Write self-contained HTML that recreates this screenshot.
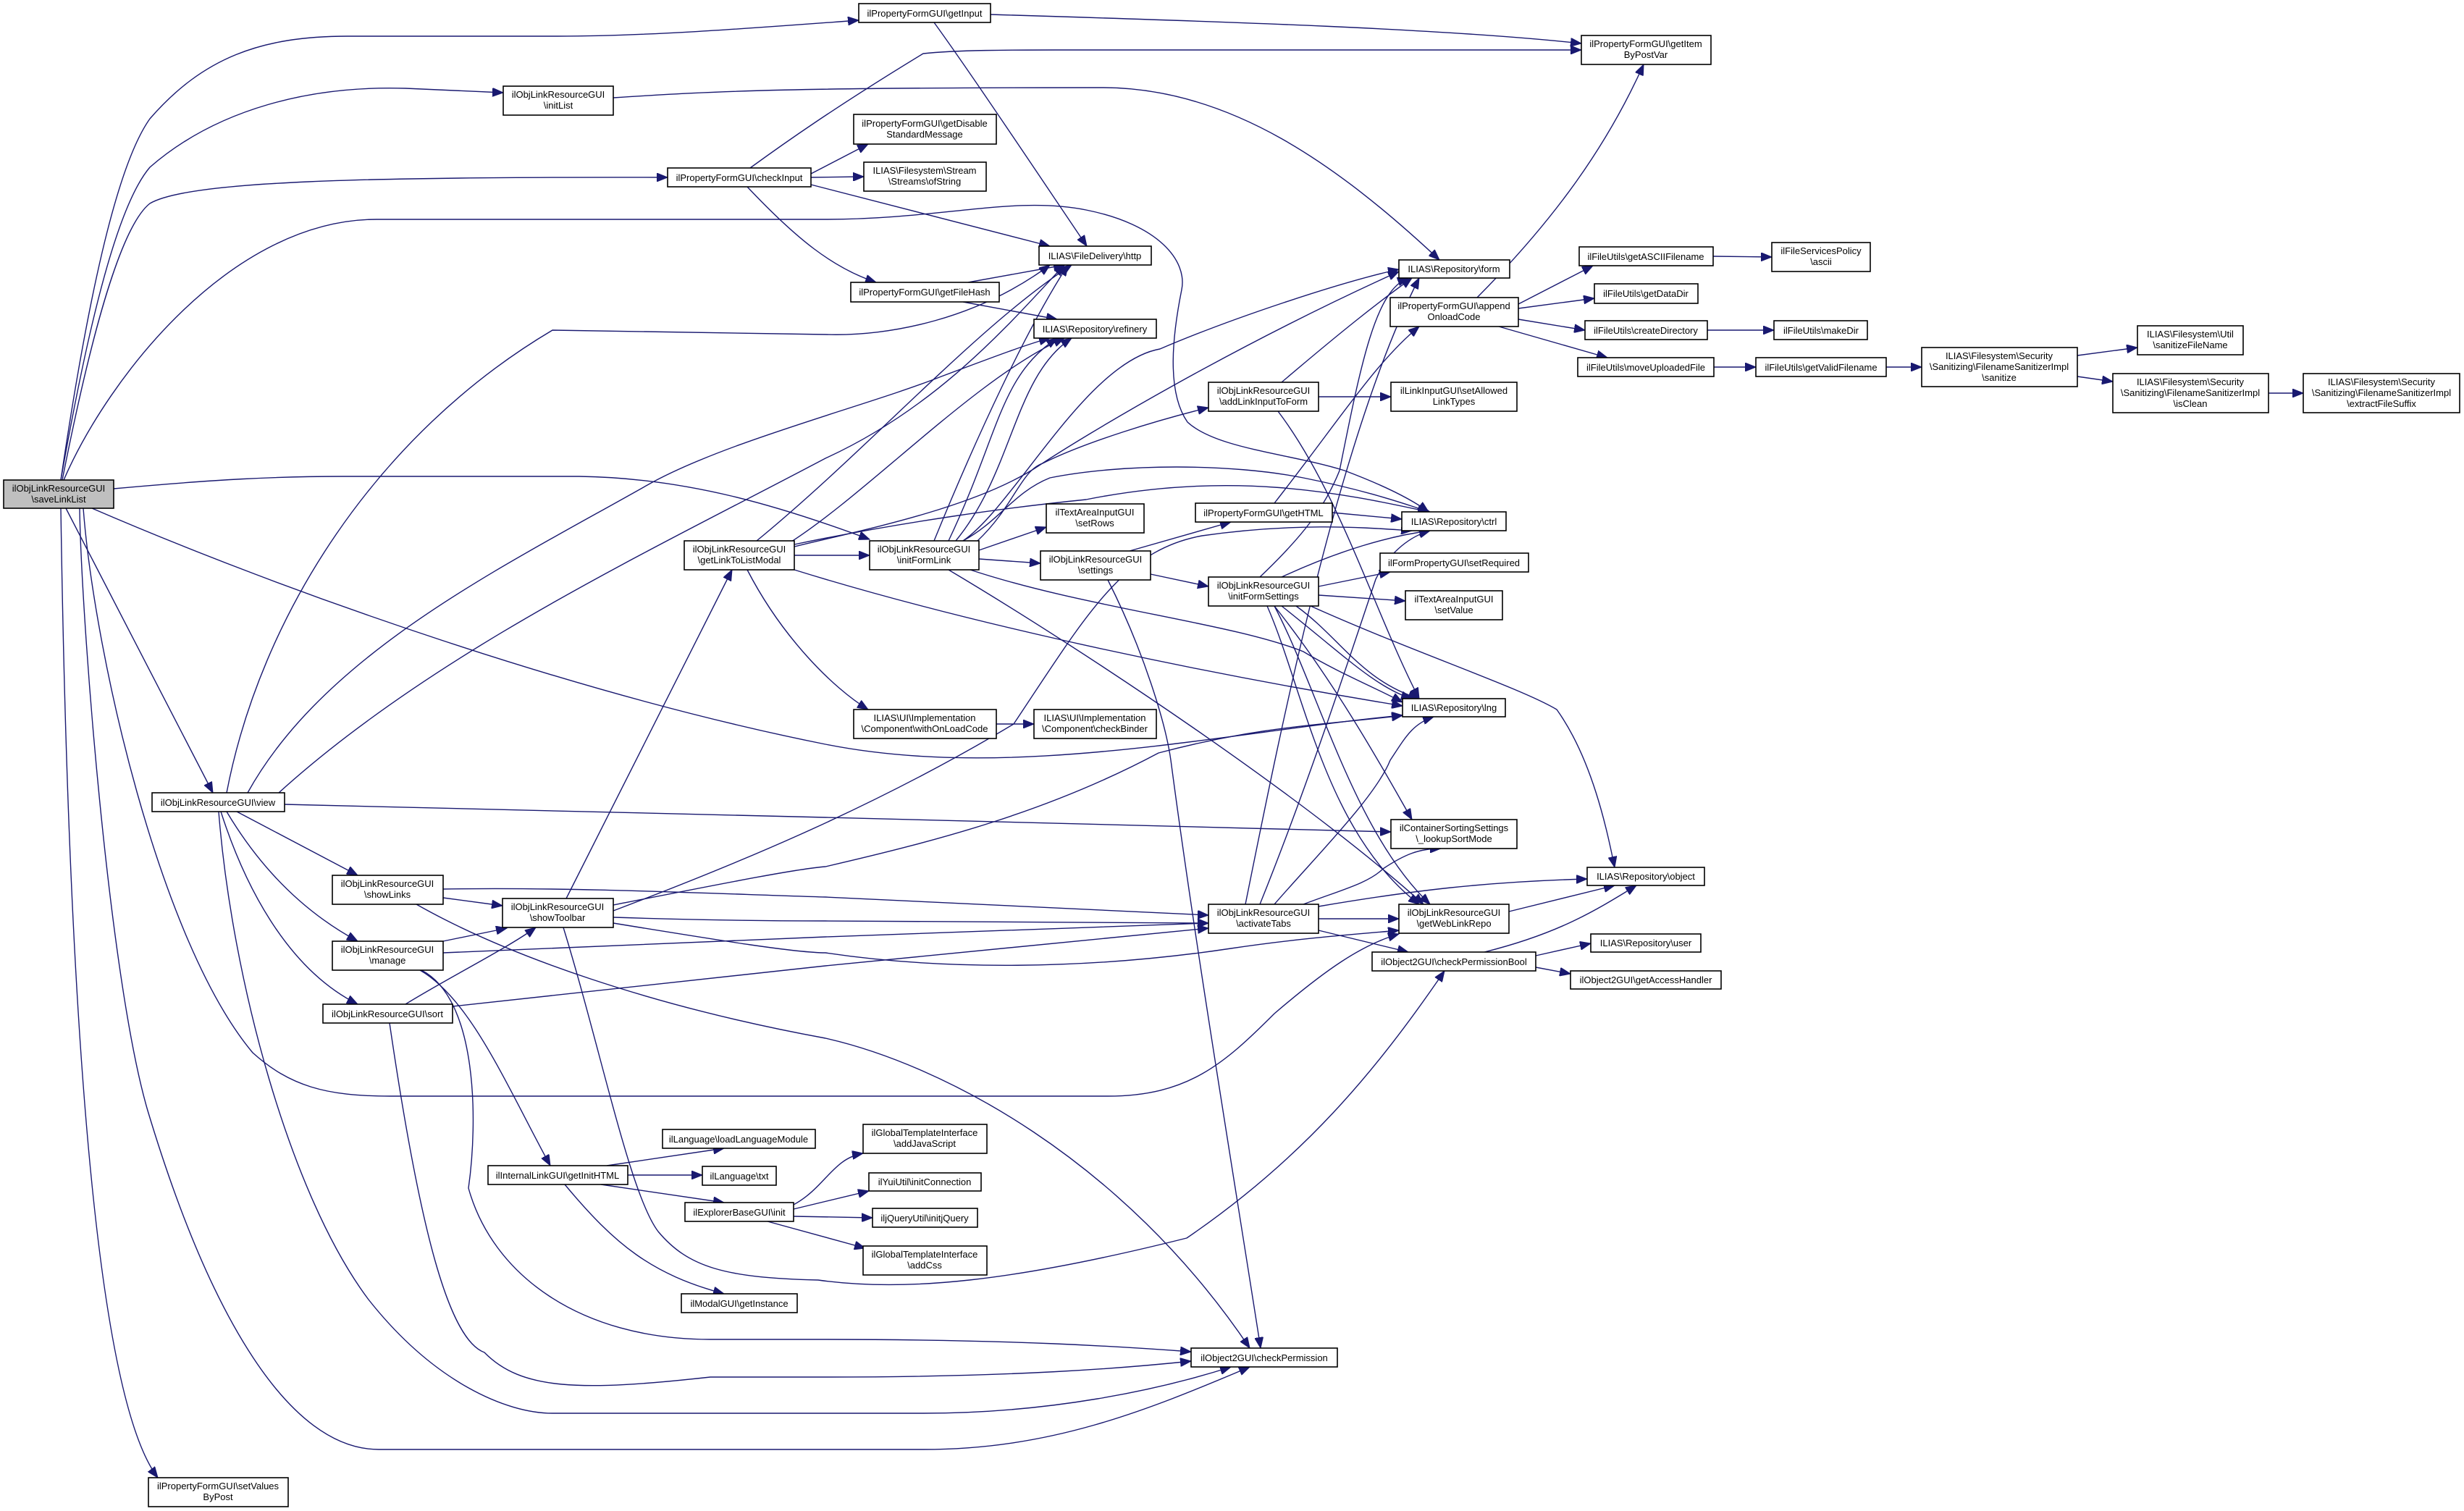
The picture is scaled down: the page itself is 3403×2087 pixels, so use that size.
<!DOCTYPE html>
<html><head><meta charset="utf-8"><style>
html,body{margin:0;padding:0;background:#fff}
svg{display:block}
text{font-family:"Liberation Sans",Arial,sans-serif;font-size:13px;fill:#000;text-anchor:middle}
.n{fill:#fff;stroke:#000;stroke-width:1.6}
.e{fill:none;stroke:#191970;stroke-width:1.4;marker-end:url(#a)}
</style></head><body>
<svg width="3403" height="2087" viewBox="0 0 3403 2087" xmlns="http://www.w3.org/2000/svg">
<defs><marker id="a" markerUnits="userSpaceOnUse" markerWidth="16" markerHeight="12" refX="15" refY="6" orient="auto"><path d="M0,0 L15,6 L0,12 z" fill="#191970" stroke="#191970"/></marker></defs>
<g>
<path class="e" d="M84,663 C120,420 160,230 207,164 C280,80 360,50 480,50 L770,50 C900,50 1050,38 1186,28"/>
<path class="e" d="M84,663 C125,430 165,280 207,231 C300,150 430,118 560,122 L695,128"/>
<path class="e" d="M86,663 C130,440 170,310 207,281 C260,250 500,244 922,245"/>
<path class="e" d="M88,663 C150,520 320,303 520,303 L1140,303 C1300,303 1400,270 1500,290 C1600,310 1640,360 1632,400 C1620,460 1610,540 1640,583 C1680,620 1780,626 1857,650 C1910,670 1950,690 1973,707"/>
<path class="e" d="M157,675 C300,662 380,658 473,658 L800,658 C950,660 1080,700 1201,745"/>
<path class="e" d="M127,702 C400,820 800,960 1140,1028 C1400,1080 1700,1010 1937,988"/>
<path class="e" d="M91,702 L294,1095"/>
<path class="e" d="M115,702 C130,900 220,1300 349,1454 C400,1500 450,1514 538,1514 L1530,1514 C1640,1514 1690,1470 1760,1400 C1830,1340 1880,1305 1932,1290"/>
<path class="e" d="M110,702 C112,850 150,1350 204,1534 C290,1820 400,2002 523,2002 L1275,2002 C1450,2002 1580,1950 1726,1888"/>
<path class="e" d="M84,702 C90,1100 110,1900 218,2041"/>
<path class="e" d="M327,1121 L494,1209"/>
<path class="e" d="M313,1121 C360,1200 420,1260 494,1300"/>
<path class="e" d="M305,1121 C340,1230 400,1340 494,1387"/>
<path class="e" d="M302,1121 C320,1350 400,1650 509,1795 C600,1910 700,1952 763,1952 L1275,1952 C1450,1952 1600,1920 1700,1888"/>
<path class="e" d="M393,1111 L1140,1129 L1921,1149"/>
<path class="e" d="M313,1095 C360,850 520,600 763,456 L1140,462 C1230,465 1350,440 1450,366"/>
<path class="e" d="M342,1095 C450,900 700,780 894,670 C1000,610 1200,560 1300,520 C1380,490 1420,475 1450,467"/>
<path class="e" d="M385,1095 C600,900 900,760 1140,633 C1300,560 1400,440 1470,366"/>
<path class="e" d="M1036,232 C1080,200 1150,150 1275,74 C1320,69 1400,69 1457,69 L2184,69"/>
<path class="e" d="M1120,240 L1199,199"/>
<path class="e" d="M1120,245 L1193,244"/>
<path class="e" d="M1120,255 L1450,340"/>
<path class="e" d="M1032,258 C1100,330 1150,370 1210,390"/>
<path class="e" d="M1368,20 C1700,30 2000,40 2184,60"/>
<path class="e" d="M1290,31 C1340,100 1420,220 1501,340"/>
<path class="e" d="M847,135 C1000,125 1100,121 1523,121 C1700,121 1850,230 1988,359"/>
<path class="e" d="M1337,390 L1470,366"/>
<path class="e" d="M1330,417 L1460,441"/>
<path class="e" d="M1097,767 L1201,767"/>
<path class="e" d="M1045,747 C1200,620 1350,450 1480,366"/>
<path class="e" d="M1090,750 C1200,680 1350,520 1470,467"/>
<path class="e" d="M1097,755 C1200,730 1350,700 1435,643 C1500,600 1700,480 1932,375"/>
<path class="e" d="M1097,787 C1300,850 1600,920 1937,975"/>
<path class="e" d="M1032,787 C1080,880 1150,950 1199,980"/>
<path class="e" d="M1097,752 C1250,720 1400,700 1500,690 C1700,650 1850,680 1973,707"/>
<path class="e" d="M1352,760 L1445,728"/>
<path class="e" d="M1352,772 L1437,778"/>
<path class="e" d="M1350,747 C1400,700 1410,650 1440,640 C1500,610 1600,580 1669,563"/>
<path class="e" d="M1330,747 C1380,720 1400,680 1450,660 C1550,640 1700,640 1800,660 C1900,680 1950,700 1975,707"/>
<path class="e" d="M1340,787 C1500,840 1700,860 1800,900 C1850,930 1900,950 1937,970"/>
<path class="e" d="M1310,787 C1500,900 1800,1100 1966,1249"/>
<path class="e" d="M1290,747 C1350,600 1420,450 1475,366"/>
<path class="e" d="M1310,747 C1380,600 1380,520 1460,467"/>
<path class="e" d="M1320,747 C1400,650 1400,520 1480,467"/>
<path class="e" d="M1330,747 C1400,700 1500,500 1602,482 C1700,440 1850,390 1932,372"/>
<path class="e" d="M1770,528 C1850,460 1900,420 1950,384"/>
<path class="e" d="M1821,548 L1921,548"/>
<path class="e" d="M1765,568 C1850,680 1900,850 1960,965"/>
<path class="e" d="M1760,695 C1850,580 1900,500 1960,451"/>
<path class="e" d="M1840,708 L1936,717"/>
<path class="e" d="M1560,761 L1700,721"/>
<path class="e" d="M1589,793 L1669,810"/>
<path class="e" d="M1530,801 C1580,900 1610,1000 1617,1050 C1650,1300 1700,1600 1741,1862"/>
<path class="e" d="M1821,810 L1920,790"/>
<path class="e" d="M1821,822 L1941,830"/>
<path class="e" d="M1770,797 C1850,760 1920,740 1975,733"/>
<path class="e" d="M1740,797 C1800,740 1830,700 1850,650 C1880,500 1900,400 1945,384"/>
<path class="e" d="M1770,837 C1850,900 1900,950 1950,965"/>
<path class="e" d="M1790,837 C1850,880 1880,940 1960,965"/>
<path class="e" d="M1810,837 C1950,900 2100,950 2150,980 C2200,1050 2220,1150 2230,1198"/>
<path class="e" d="M1760,837 C1850,950 1920,1080 1950,1132"/>
<path class="e" d="M1750,837 C1800,950 1830,1150 1960,1249"/>
<path class="e" d="M1760,837 C1820,950 1870,1150 1975,1249"/>
<path class="e" d="M2040,411 C2150,300 2220,200 2270,89"/>
<path class="e" d="M2097,420 L2200,367"/>
<path class="e" d="M2097,426 L2202,412"/>
<path class="e" d="M2097,441 L2189,456"/>
<path class="e" d="M2070,451 L2220,494"/>
<path class="e" d="M2366,354 L2447,355"/>
<path class="e" d="M2358,456 L2450,456"/>
<path class="e" d="M2367,507 L2425,507"/>
<path class="e" d="M2605,507 L2654,507"/>
<path class="e" d="M2869,491 L2952,480"/>
<path class="e" d="M2869,520 L2918,527"/>
<path class="e" d="M3133,543 L3181,543"/>
<path class="e" d="M612,1240 L694,1251"/>
<path class="e" d="M612,1228 C800,1225 1000,1235 1140,1239 L1669,1264"/>
<path class="e" d="M575,1249 C700,1320 900,1390 1140,1434 C1300,1470 1550,1600 1726,1862"/>
<path class="e" d="M612,1300 L700,1282"/>
<path class="e" d="M612,1316 L1140,1294 L1669,1275"/>
<path class="e" d="M580,1340 C650,1380 700,1500 760,1610"/>
<path class="e" d="M582,1340 C660,1380 660,1550 647,1641 C680,1760 800,1850 981,1850 L1140,1850 C1400,1850 1550,1860 1645,1867"/>
<path class="e" d="M560,1387 C620,1350 700,1310 740,1281"/>
<path class="e" d="M625,1390 L1140,1334 L1669,1282"/>
<path class="e" d="M538,1413 C580,1700 620,1850 669,1868 C720,1920 800,1922 981,1902 L1140,1902 C1400,1902 1550,1890 1645,1880"/>
<path class="e" d="M782,1241 L1011,787"/>
<path class="e" d="M847,1250 C1000,1220 1100,1200 1140,1197 C1300,1160 1450,1120 1600,1040 C1750,1000 1850,1000 1937,988"/>
<path class="e" d="M847,1267 C1000,1272 1100,1272 1140,1272 L1669,1275"/>
<path class="e" d="M847,1275 C1000,1300 1100,1316 1140,1316 C1300,1340 1500,1340 1700,1310 C1800,1295 1880,1290 1932,1285"/>
<path class="e" d="M778,1281 C830,1450 870,1650 909,1701 C950,1750 1000,1765 1130,1768 C1250,1785 1400,1770 1639,1710 C1800,1600 1900,1480 1995,1341"/>
<path class="e" d="M847,1258 C1000,1200 1200,1120 1400,1000 C1500,850 1550,760 1660,740 C1800,720 1900,730 1950,733"/>
<path class="e" d="M1821,1269 L1932,1269"/>
<path class="e" d="M1821,1252 C1950,1230 2050,1218 2192,1214"/>
<path class="e" d="M1821,1285 L1945,1315"/>
<path class="e" d="M1800,1249 C1850,1230 1890,1220 1910,1200 C1940,1180 1960,1172 1990,1172"/>
<path class="e" d="M1760,1249 C1820,1180 1900,1100 1920,1050 C1940,1020 1950,1000 1980,990"/>
<path class="e" d="M1740,1249 C1800,1100 1850,950 1900,800 C1920,760 1950,740 1975,733"/>
<path class="e" d="M1720,1249 C1770,1000 1850,600 1960,384"/>
<path class="e" d="M2084,1259 L2230,1223"/>
<path class="e" d="M2050,1315 C2150,1290 2200,1260 2260,1223"/>
<path class="e" d="M2121,1320 L2197,1303"/>
<path class="e" d="M2121,1336 L2169,1345"/>
<path class="e" d="M838,1610 L1000,1586"/>
<path class="e" d="M867,1623 L970,1623"/>
<path class="e" d="M830,1636 L1000,1661"/>
<path class="e" d="M780,1636 C850,1720 900,1760 1000,1787"/>
<path class="e" d="M1096,1664 C1140,1640 1150,1600 1192,1593"/>
<path class="e" d="M1096,1670 L1200,1645"/>
<path class="e" d="M1096,1680 L1205,1682"/>
<path class="e" d="M1060,1687 L1195,1724"/>
<path class="e" d="M1376,1000 L1428,1000"/>
</g>
<g>
<rect x="5" y="663" width="152" height="39" fill="#bfbfbf" stroke="#000" stroke-width="1.6"/><text x="81" y="679">ilObjLinkResourceGUI</text><text x="81" y="694">\saveLinkList</text>
<rect class="n" x="1186" y="5" width="182" height="26"/><text x="1277" y="23">ilPropertyFormGUI\getInput</text>
<rect class="n" x="2184" y="49" width="179" height="40"/><text x="2273" y="65">ilPropertyFormGUI\getItem</text><text x="2273" y="80">ByPostVar</text>
<rect class="n" x="695" y="119" width="152" height="40"/><text x="771" y="135">ilObjLinkResourceGUI</text><text x="771" y="150">\initList</text>
<rect class="n" x="922" y="232" width="198" height="26"/><text x="1021" y="250">ilPropertyFormGUI\checkInput</text>
<rect class="n" x="1179" y="158" width="197" height="41"/><text x="1277" y="175">ilPropertyFormGUI\getDisable</text><text x="1277" y="190">StandardMessage</text>
<rect class="n" x="1193" y="224" width="169" height="40"/><text x="1277" y="240">ILIAS\Filesystem\Stream</text><text x="1277" y="255">\Streams\ofString</text>
<rect class="n" x="1435" y="340" width="155" height="26"/><text x="1512" y="358">ILIAS\FileDelivery\http</text>
<rect class="n" x="1175" y="390" width="205" height="27"/><text x="1277" y="408">ilPropertyFormGUI\getFileHash</text>
<rect class="n" x="1428" y="441" width="169" height="26"/><text x="1512" y="459">ILIAS\Repository\refinery</text>
<rect class="n" x="1932" y="359" width="153" height="25"/><text x="2008" y="376">ILIAS\Repository\form</text>
<rect class="n" x="1920" y="411" width="177" height="40"/><text x="2008" y="427">ilPropertyFormGUI\append</text><text x="2008" y="442">OnloadCode</text>
<rect class="n" x="2181" y="341" width="185" height="26"/><text x="2273" y="359">ilFileUtils\getASCIIFilename</text>
<rect class="n" x="2202" y="392" width="143" height="27"/><text x="2273" y="410">ilFileUtils\getDataDir</text>
<rect class="n" x="2189" y="443" width="169" height="26"/><text x="2273" y="461">ilFileUtils\createDirectory</text>
<rect class="n" x="2179" y="494" width="188" height="26"/><text x="2273" y="512">ilFileUtils\moveUploadedFile</text>
<rect class="n" x="2447" y="335" width="136" height="40"/><text x="2515" y="351">ilFileServicesPolicy</text><text x="2515" y="366">\ascii</text>
<rect class="n" x="2450" y="443" width="129" height="26"/><text x="2515" y="461">ilFileUtils\makeDir</text>
<rect class="n" x="2425" y="494" width="180" height="26"/><text x="2515" y="512">ilFileUtils\getValidFilename</text>
<rect class="n" x="2654" y="480" width="215" height="54"/><text x="2761" y="496">ILIAS\Filesystem\Security</text><text x="2761" y="511">\Sanitizing\FilenameSanitizerImpl</text><text x="2761" y="526">\sanitize</text>
<rect class="n" x="2952" y="450" width="146" height="40"/><text x="3025" y="466">ILIAS\Filesystem\Util</text><text x="3025" y="481">\sanitizeFileName</text>
<rect class="n" x="2918" y="516" width="215" height="54"/><text x="3025" y="532">ILIAS\Filesystem\Security</text><text x="3025" y="547">\Sanitizing\FilenameSanitizerImpl</text><text x="3025" y="562">\isClean</text>
<rect class="n" x="3181" y="516" width="216" height="54"/><text x="3289" y="532">ILIAS\Filesystem\Security</text><text x="3289" y="547">\Sanitizing\FilenameSanitizerImpl</text><text x="3289" y="562">\extractFileSuffix</text>
<rect class="n" x="1669" y="528" width="152" height="40"/><text x="1745" y="544">ilObjLinkResourceGUI</text><text x="1745" y="559">\addLinkInputToForm</text>
<rect class="n" x="1921" y="528" width="174" height="40"/><text x="2008" y="544">ilLinkInputGUI\setAllowed</text><text x="2008" y="559">LinkTypes</text>
<rect class="n" x="1445" y="696" width="135" height="40"/><text x="1512" y="712">ilTextAreaInputGUI</text><text x="1512" y="727">\setRows</text>
<rect class="n" x="1651" y="695" width="189" height="26"/><text x="1745" y="713">ilPropertyFormGUI\getHTML</text>
<rect class="n" x="1936" y="707" width="144" height="26"/><text x="2008" y="725">ILIAS\Repository\ctrl</text>
<rect class="n" x="945" y="747" width="152" height="40"/><text x="1021" y="763">ilObjLinkResourceGUI</text><text x="1021" y="778">\getLinkToListModal</text>
<rect class="n" x="1201" y="747" width="151" height="40"/><text x="1276" y="763">ilObjLinkResourceGUI</text><text x="1276" y="778">\initFormLink</text>
<rect class="n" x="1437" y="761" width="152" height="40"/><text x="1513" y="777">ilObjLinkResourceGUI</text><text x="1513" y="792">\settings</text>
<rect class="n" x="1906" y="764" width="205" height="26"/><text x="2008" y="782">ilFormPropertyGUI\setRequired</text>
<rect class="n" x="1669" y="797" width="152" height="40"/><text x="1745" y="813">ilObjLinkResourceGUI</text><text x="1745" y="828">\initFormSettings</text>
<rect class="n" x="1941" y="816" width="134" height="40"/><text x="2008" y="832">ilTextAreaInputGUI</text><text x="2008" y="847">\setValue</text>
<rect class="n" x="1937" y="965" width="142" height="25"/><text x="2008" y="982">ILIAS\Repository\lng</text>
<rect class="n" x="1179" y="980" width="197" height="40"/><text x="1277" y="996">ILIAS\UI\Implementation</text><text x="1277" y="1011">\Component\withOnLoadCode</text>
<rect class="n" x="1428" y="980" width="169" height="40"/><text x="1512" y="996">ILIAS\UI\Implementation</text><text x="1512" y="1011">\Component\checkBinder</text>
<rect class="n" x="210" y="1095" width="183" height="26"/><text x="301" y="1113">ilObjLinkResourceGUI\view</text>
<rect class="n" x="1921" y="1132" width="174" height="40"/><text x="2008" y="1148">ilContainerSortingSettings</text><text x="2008" y="1163">\_lookupSortMode</text>
<rect class="n" x="2192" y="1198" width="162" height="25"/><text x="2273" y="1215">ILIAS\Repository\object</text>
<rect class="n" x="459" y="1209" width="153" height="40"/><text x="535" y="1225">ilObjLinkResourceGUI</text><text x="535" y="1240">\showLinks</text>
<rect class="n" x="694" y="1241" width="153" height="40"/><text x="770" y="1257">ilObjLinkResourceGUI</text><text x="770" y="1272">\showToolbar</text>
<rect class="n" x="1669" y="1249" width="152" height="40"/><text x="1745" y="1265">ilObjLinkResourceGUI</text><text x="1745" y="1280">\activateTabs</text>
<rect class="n" x="1932" y="1249" width="152" height="40"/><text x="2008" y="1265">ilObjLinkResourceGUI</text><text x="2008" y="1280">\getWebLinkRepo</text>
<rect class="n" x="2197" y="1290" width="152" height="25"/><text x="2273" y="1307">ILIAS\Repository\user</text>
<rect class="n" x="459" y="1300" width="153" height="40"/><text x="535" y="1316">ilObjLinkResourceGUI</text><text x="535" y="1331">\manage</text>
<rect class="n" x="1895" y="1315" width="226" height="26"/><text x="2008" y="1333">ilObject2GUI\checkPermissionBool</text>
<rect class="n" x="2169" y="1341" width="208" height="25"/><text x="2273" y="1358">ilObject2GUI\getAccessHandler</text>
<rect class="n" x="446" y="1387" width="179" height="26"/><text x="535" y="1405">ilObjLinkResourceGUI\sort</text>
<rect class="n" x="1192" y="1553" width="171" height="40"/><text x="1277" y="1569">ilGlobalTemplateInterface</text><text x="1277" y="1584">\addJavaScript</text>
<rect class="n" x="915" y="1560" width="211" height="26"/><text x="1020" y="1578">ilLanguage\loadLanguageModule</text>
<rect class="n" x="674" y="1610" width="193" height="26"/><text x="770" y="1628">ilInternalLinkGUI\getInitHTML</text>
<rect class="n" x="970" y="1611" width="102" height="26"/><text x="1021" y="1629">ilLanguage\txt</text>
<rect class="n" x="1200" y="1620" width="155" height="25"/><text x="1277" y="1637">ilYuiUtil\initConnection</text>
<rect class="n" x="946" y="1661" width="150" height="26"/><text x="1021" y="1679">ilExplorerBaseGUI\init</text>
<rect class="n" x="1205" y="1669" width="145" height="26"/><text x="1277" y="1687">iljQueryUtil\initjQuery</text>
<rect class="n" x="1192" y="1721" width="171" height="40"/><text x="1277" y="1737">ilGlobalTemplateInterface</text><text x="1277" y="1752">\addCss</text>
<rect class="n" x="941" y="1787" width="160" height="26"/><text x="1021" y="1805">ilModalGUI\getInstance</text>
<rect class="n" x="1645" y="1862" width="202" height="26"/><text x="1746" y="1880">ilObject2GUI\checkPermission</text>
<rect class="n" x="205" y="2041" width="193" height="40"/><text x="301" y="2057">ilPropertyFormGUI\setValues</text><text x="301" y="2072">ByPost</text>
</g>
</svg>
</body></html>
